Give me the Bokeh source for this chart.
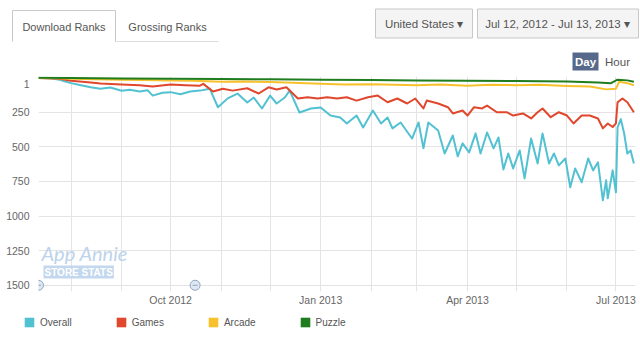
import numpy as np
import pandas as pd
from bokeh.plotting import figure
from bokeh.models import (Range1d, FixedTicker, DatetimeTickFormatter, Legend,
                          LegendItem, Label)
from bokeh.embed import file_html
from bokeh.resources import INLINE
from bokeh.core.properties import value

# ---------------- data ----------------
overall_dates = ["2012-07-12","2012-07-19","2012-07-25","2012-07-29","2012-08-01","2012-08-07","2012-08-13","2012-08-19","2012-08-25","2012-09-01",
                 "2012-09-06","2012-09-12","2012-09-17","2012-09-20","2012-09-26","2012-10-01","2012-10-07","2012-10-13","2012-10-19","2012-10-25",
                 "2012-10-30","2012-11-05","2012-11-11","2012-11-17","2012-11-21","2012-11-26","2012-12-01","2012-12-05","2012-12-10","2012-12-13",
                 "2012-12-19","2012-12-26","2013-01-01","2013-01-07","2013-01-13","2013-01-17","2013-01-23","2013-01-27","2013-02-02","2013-02-07",
                 "2013-02-11","2013-02-14","2013-02-19","2013-02-26","2013-03-02","2013-03-05","2013-03-08","2013-03-14","2013-03-18","2013-03-23",
                 "2013-03-26","2013-03-29","2013-04-02","2013-04-06","2013-04-09","2013-04-13","2013-04-17","2013-04-20","2013-04-23","2013-04-26",
                 "2013-04-29","2013-05-03","2013-05-06","2013-05-10","2013-05-14","2013-05-17","2013-05-21","2013-05-24","2013-05-27","2013-05-31",
                 "2013-06-03","2013-06-06","2013-06-10","2013-06-14","2013-06-17","2013-06-20","2013-06-23","2013-06-25","2013-06-26","2013-06-29",
                 "2013-07-01","2013-07-02","2013-07-04","2013-07-06","2013-07-08","2013-07-10","2013-07-12"]
overall_rank = [3, 5, 15, 30, 40, 55, 70, 80, 72, 95,
                88, 100, 92, 130, 110, 105, 120, 100, 94, 80,
                214, 150, 115, 180, 144, 223, 130, 187, 144, 94,
                252, 223, 216, 274, 288, 331, 274, 360, 238, 331,
                288, 367, 324, 440, 324, 511, 324, 382, 548, 418,
                569, 475, 540, 403, 548, 396, 511, 432, 663, 548,
                656, 526, 728, 440, 620, 403, 620, 548, 634, 584,
                792, 656, 756, 584, 670, 612, 886, 742, 872, 670,
                828, 360, 300, 400, 548, 526, 620]

games_dates = ["2012-07-12","2012-07-25","2012-08-01","2012-08-13","2012-08-19","2012-09-01","2012-09-12","2012-09-20","2012-10-01","2012-10-10",
               "2012-10-19","2012-10-21","2012-10-27","2012-11-02","2012-11-08","2012-11-17","2012-11-24","2012-11-30","2012-12-05","2012-12-11",
               "2012-12-18","2012-12-24","2012-12-30","2013-01-05","2013-01-11","2013-01-17","2013-01-23","2013-01-30","2013-02-05","2013-02-11",
               "2013-02-17","2013-02-23","2013-02-28","2013-03-05","2013-03-07","2013-03-14","2013-03-20","2013-03-23","2013-03-29","2013-04-01",
               "2013-04-05","2013-04-10","2013-04-13","2013-04-19","2013-04-25","2013-04-29","2013-05-05","2013-05-10","2013-05-14","2013-05-17",
               "2013-05-22","2013-05-27","2013-06-01","2013-06-05","2013-06-10","2013-06-15","2013-06-20","2013-06-23","2013-06-26","2013-06-29",
               "2013-07-01","2013-07-02","2013-07-05","2013-07-08","2013-07-10","2013-07-12"]
games_rank = [3, 8, 22, 35, 43, 50, 55, 65, 50, 55,
              58, 45, 100, 80, 94, 77, 115, 70, 86, 70,
              151, 142, 151, 142, 151, 142, 166, 142, 130, 178,
              151, 187, 151, 223, 166, 187, 214, 259, 238, 274,
              214, 223, 202, 250, 250, 274, 259, 295, 250, 223,
              286, 250, 274, 331, 274, 274, 295, 367, 331, 357,
              331, 178, 151, 178, 214, 250]

arcade_dates = ["2012-07-12","2012-07-25","2012-08-01","2012-08-15","2012-09-01","2012-09-15","2012-10-01","2012-10-15","2012-11-01","2012-11-15",
                "2012-12-01","2012-12-15","2013-01-01","2013-01-15","2013-02-01","2013-02-15","2013-03-01","2013-03-15","2013-04-01","2013-04-15",
                "2013-05-01","2013-05-15","2013-06-01","2013-06-15","2013-06-25","2013-07-01","2013-07-03","2013-07-08","2013-07-12"]
arcade_rank = [2, 4, 8, 12, 15, 18, 20, 22, 30, 28,
               32, 38, 45, 50, 48, 52, 55, 50, 58, 52,
               55, 52, 60, 65, 85, 80, 30, 40, 55]

puzzle_dates = ["2012-07-12","2012-08-01","2012-09-01","2012-10-01","2012-11-01","2012-12-01","2013-01-01","2013-02-01","2013-03-01","2013-04-01",
                "2013-05-01","2013-06-01","2013-06-20","2013-06-28","2013-07-02","2013-07-08","2013-07-12"]
puzzle_rank = [1, 3, 6, 8, 10, 12, 15, 18, 20, 22,
               25, 28, 35, 40, 15, 20, 30]

series_names = ["Overall", "Games", "Arcade", "Puzzle"]
series_colors = ["#52c1d1", "#e0472c", "#f7c12c", "#1f7d1f"]

y_tick_values = [250, 500, 750, 1000, 1250, 1500]
y_tick_labels = ["250", "500", "750", "1000", "1250", "1500"]
x_tick_dates = ["2012-10-01", "2013-01-01", "2013-04-01", "2013-07-01"]
month_grid_dates = ["2012-07-12", "2012-08-01", "2012-09-01", "2012-10-01", "2012-11-01", "2012-12-01",
                    "2013-01-01", "2013-02-01", "2013-03-01", "2013-04-01", "2013-05-01", "2013-06-01", "2013-07-01"]
navigator_dates = ["2012-07-12", "2012-10-16"]
navigator_rank = [1500, 1500]

FONT = value("Liberation Sans")
W = 640

def ms(d):
    return pd.Timestamp(d).value / 1e6

# ---------------- header (tabs and buttons) ----------------
HH = 72
h = figure(width=W, height=HH, x_range=Range1d(0, W), y_range=Range1d(HH, 0),
           output_backend="svg", toolbar_location=None, min_border=0,
           x_axis_location=None, y_axis_location=None)
h.grid.visible = False
h.outline_line_color = None

h.quad(left=[12], right=[115], top=[10], bottom=[41], fill_color="white", line_color=None)
h.multi_line(xs=[[12, 12, 115, 115], [115, 218]], ys=[[41, 10, 10, 41], [41, 41]],
             line_color=["#c9c9c9", "#dedede"], line_width=1)
h.text(x=[63.5, 167], y=[26, 26], text=["Download Ranks", "Grossing Ranks"],
       text_align="center", text_baseline="middle", text_font=FONT,
       text_font_size="11px", text_color="#555555")

h.quad(left=[375, 477], right=[472, 638], top=[8.5, 8.5], bottom=[37.5, 37.5],
       fill_color="#f4f4f4", line_color="#c8c8c8", line_width=1)
h.text(x=[423.5, 557], y=[23, 23], text=["United States \u25BE", "Jul 12, 2012 - Jul 13, 2013 \u25BE"],
       text_align="center", text_baseline="middle", text_font=FONT,
       text_font_size="11.5px", text_color="#555555")

h.quad(left=[572], right=[598], top=[52], bottom=[70], fill_color="#56698a", line_color=None)
h.text(x=[585], y=[61.5], text=["Day"], text_align="center", text_baseline="middle",
       text_font=FONT, text_font_size="11.5px", text_font_style="bold", text_color="white")
h.text(x=[617], y=[61.5], text=["Hour"], text_align="center", text_baseline="middle",
       text_font=FONT, text_font_size="11.5px", text_color="#555555")

# ---------------- main chart ----------------
p = figure(width=W, height=236, x_axis_type="datetime",
           x_range=Range1d(pd.Timestamp("2012-07-12"), pd.Timestamp("2013-07-13")),
           y_range=Range1d(1545, -8),
           output_backend="svg", toolbar_location=None,
           min_border_left=38, min_border_right=5, min_border_top=4, min_border_bottom=16)
p.outline_line_color = None
p.background_fill_color = "white"

# grid
p.ygrid.ticker = FixedTicker(ticks=y_tick_values)
p.xgrid.ticker = FixedTicker(ticks=[ms(d) for d in month_grid_dates])
p.grid.grid_line_color = "#e4e4e4"
p.grid.grid_line_width = 1

# y axis
p.yaxis.ticker = FixedTicker(ticks=[45] + y_tick_values)
overrides = {45: "1"}
overrides.update({v: l for v, l in zip(y_tick_values, y_tick_labels)})
p.yaxis.major_label_overrides = overrides
p.yaxis.axis_line_color = None
p.yaxis.major_tick_line_color = None
p.yaxis.minor_tick_line_color = None
p.yaxis.major_tick_out = 0
p.yaxis.major_tick_in = 0
p.yaxis.major_label_standoff = 9
p.yaxis.major_label_text_font = "Liberation Sans"
p.yaxis.major_label_text_font_size = "10.5px"
p.yaxis.major_label_text_color = "#666666"

# x axis
p.xaxis.ticker = FixedTicker(ticks=[ms(d) for d in x_tick_dates])
p.xaxis.formatter = DatetimeTickFormatter(days="%b %Y", months="%b %Y", years="%b %Y")
p.xaxis.axis_line_color = None
p.xaxis.major_tick_line_color = None
p.xaxis.minor_tick_line_color = None
p.xaxis.major_tick_out = 0
p.xaxis.major_tick_in = 0
p.xaxis.major_label_standoff = 2
p.xaxis.major_label_text_font = "Liberation Sans"
p.xaxis.major_label_text_font_size = "10.5px"
p.xaxis.major_label_text_color = "#666666"

# watermark
p.add_layout(Label(x=3, y=39, x_units="screen", y_units="screen", text="App Annie",
                   text_font="Lato", text_font_style="italic", text_font_size="20px",
                   text_baseline="middle", text_color="#bdd3ec"))
p.add_layout(Label(x=5, y=13, x_units="screen", y_units="screen", text="STORE STATS",
                   text_font="Liberation Sans", text_font_style="bold", text_font_size="10px",
                   text_baseline="bottom", text_color="white", background_fill_color="#c3d8ee",
                   padding=1))

# series
sets = [(overall_dates, overall_rank), (games_dates, games_rank),
        (arcade_dates, arcade_rank), (puzzle_dates, puzzle_rank)]
for (d, r), c in zip(sets, series_colors):
    p.line(x=pd.to_datetime(d), y=r, line_color=c, line_width=2, line_join="round")

# navigator handles
p.scatter(x=pd.to_datetime(navigator_dates), y=navigator_rank, marker="circle", size=10,
          fill_color="#dfe7f0", line_color="#90a7c0", line_width=1)
p.scatter(x=pd.to_datetime(navigator_dates), y=navigator_rank, marker="dash", size=5,
          line_color="#90a7c0", line_width=1)

# ---------------- legend strip ----------------
lg = figure(width=W, height=32, x_range=Range1d(0, 1), y_range=Range1d(0, 1),
            output_backend="svg", toolbar_location=None, min_border=0,
            x_axis_location=None, y_axis_location=None)
lg.grid.visible = False
lg.outline_line_color = None
items = []
for name, c in zip(series_names, series_colors):
    r = lg.quad(left=[np.nan], right=[np.nan], top=[np.nan], bottom=[np.nan],
                fill_color=c, line_color=None)
    items.append(LegendItem(label=name, renderers=[r]))
legend = Legend(items=items, orientation="horizontal", location=(23, 12),
                glyph_width=12, glyph_height=12, spacing=43, label_standoff=5,
                padding=0, margin=0, border_line_color=None, background_fill_alpha=0,
                label_text_font="Liberation Sans", label_text_font_size="10px",
                label_text_color="#555555")
lg.add_layout(legend, "center")

open("out.html", "w").write(file_html([h, p, lg], INLINE))
